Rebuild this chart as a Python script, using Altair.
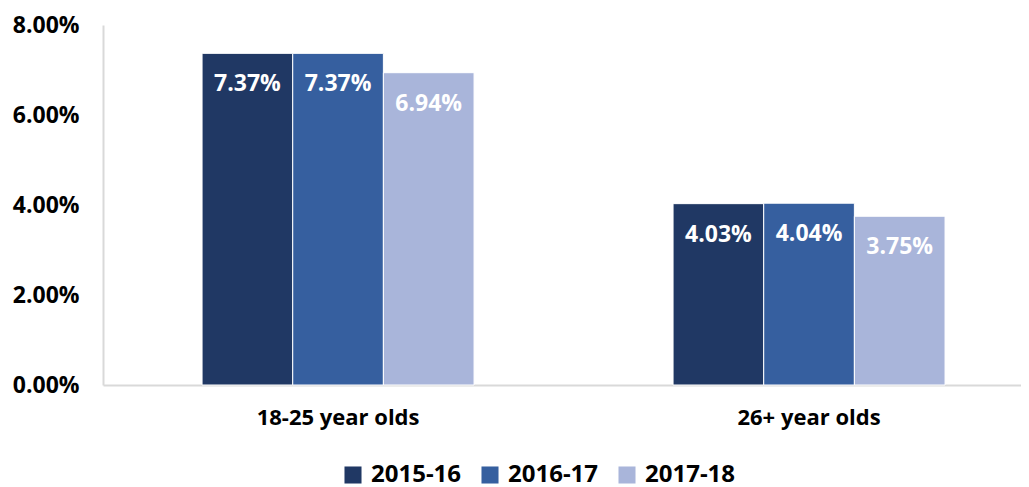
import altair as alt
import pandas as pd

groups = ["18-25 year olds", "26+ year olds"]
years = ["2015-16", "2016-17", "2017-18"]
values_1825 = [0.0737, 0.0737, 0.0694]
values_26 = [0.0403, 0.0404, 0.0375]
colors = ["#203864", "#365F9F", "#A9B5DA"]

rows = []
for g, vals in zip(groups, [values_1825, values_26]):
    for y, v in zip(years, vals):
        rows.append({"group": g, "year": y, "value": v})
df = pd.DataFrame(rows)

FONT = "Open Sans"

x = alt.X("group:N", sort=groups, title=None,
          scale=alt.Scale(paddingInner=0.4225, paddingOuter=0.1858, align=0.566),
          axis=alt.Axis(labelAngle=0, ticks=False, domainColor="#d9d9d9", domainWidth=2,
                        labelFont=FONT, labelFontWeight="bold", labelFontSize=22,
                        labelColor="#000000", labelPadding=22))
y = alt.Y("value:Q", title=None,
          scale=alt.Scale(domain=[0, 0.08]),
          axis=alt.Axis(values=[0, 0.02, 0.04, 0.06, 0.08], format=".2%", grid=False,
                        ticks=False, domainColor="#d9d9d9", domainWidth=2,
                        labelFont=FONT, labelFontWeight="bold", labelFontSize=23,
                        labelColor="#000000", labelPadding=24))
xo = alt.XOffset("year:N", sort=years)

bars = alt.Chart(df).mark_bar(stroke="white", strokeWidth=1).encode(
    x=x, y=y, xOffset=xo,
    color=alt.Color("year:N", sort=years,
                    scale=alt.Scale(domain=years, range=colors),
                    legend=alt.Legend(title=None, orient="none", direction="horizontal",
                                      legendX=238, legendY=438,
                                      symbolType="square", symbolSize=290,
                                      symbolStrokeWidth=0, symbolOffset=0,
                                      labelFont=FONT, labelFontWeight="bold",
                                      labelFontSize=24, labelColor="#000000",
                                      labelOffset=6, columnPadding=16)),
)

labels = alt.Chart(df).mark_text(
    color="white", font=FONT, fontWeight="bold", fontSize=23,
    baseline="middle", dy=31
).encode(
    x=x, y=y, xOffset=xo,
    text=alt.Text("value:Q", format=".2%"),
)

chart = (bars + labels).properties(
    width=918, height=360,
    autosize=alt.AutoSizeParams(type="none"),
    padding={"left": 95, "top": 17, "right": 0, "bottom": 110},
).configure_view(stroke=None)

chart.save("out.html", embed_options={"renderer": "svg", "actions": False})
